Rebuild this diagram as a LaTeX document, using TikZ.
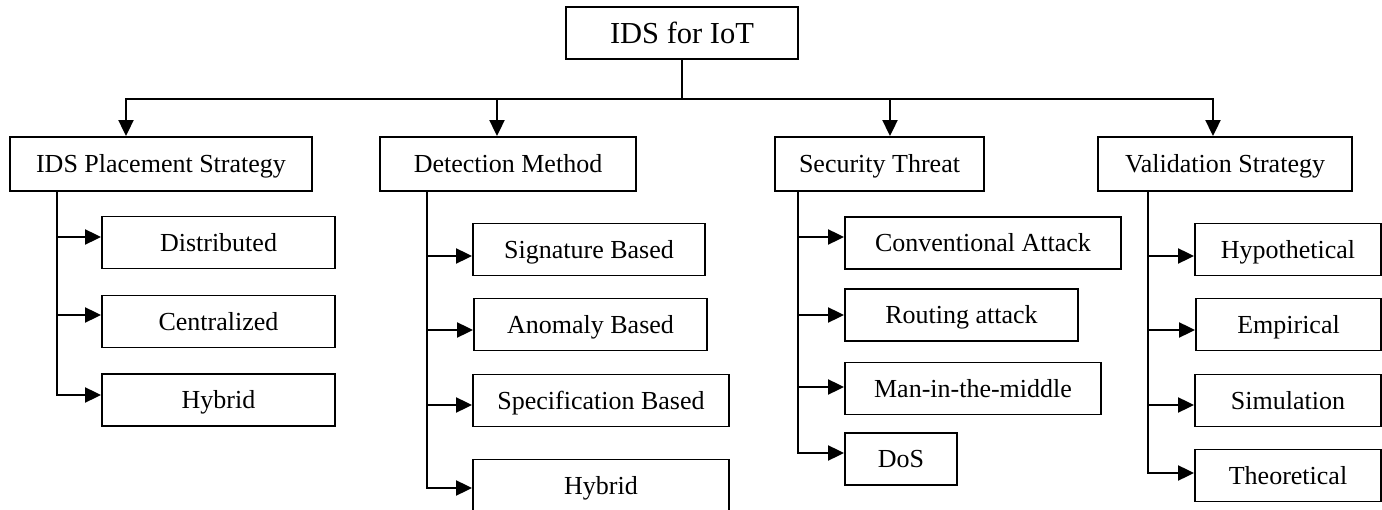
\documentclass[tikz,border=0pt]{standalone}
\usepackage{fontspec}
\setmainfont{Liberation Serif}
\usetikzlibrary{arrows.meta}

% arrow from a vertical stem into the west side of a node, shifted vertically
\newcommand\branchto[3]{%
  \path ([yshift=#3]#2.west) coordinate (#2-in);
  \draw[arrow] (#2-in -| #1) -- (#2-in);}

\begin{document}
\begin{tikzpicture}[x=1pt,y=-1pt,
  box/.style={draw, line width=1.9pt, inner sep=0pt, text height=17.2pt,
    text depth=0pt, font=\fontsize{26}{30}\selectfont},
  toplevel/.style={box, minimum height=54pt},
  leaf/.style={box, minimum height=52pt},
  wire/.style={line width=2.1pt, line cap=rect},
  arrow/.style={line width=2.1pt, -{Triangle[length=16pt,width=15pt]}},
]
\useasboundingbox (0,0) rectangle (1382,510);

% root
\node[box, minimum width=232pt, minimum height=52pt, text height=20.1pt,
  font=\fontsize{30.5}{36}\selectfont] (root) at (682,33) {IDS for IoT};

% first level
\node[toplevel, minimum width=302pt] (place)  at (161,164)   {IDS Placement Strategy};
\node[toplevel, minimum width=256pt] (detect) at (508,164)   {Detection Method};
\node[toplevel, minimum width=209pt] (threat) at (879.5,164) {Security Threat};
\node[toplevel, minimum width=254pt] (valid)  at (1225,164)  {Validation Strategy};

% placement strategies
\node[leaf, minimum width=233pt] (pa) at (218.5,242.5) {Distributed};
\node[leaf, minimum width=233pt] (pb) at (218.5,321.5) {Centralized};
\node[leaf, minimum width=233pt] (pc) at (218.5,400)   {Hybrid};

% detection methods
\node[leaf, minimum width=232pt] (da) at (589,249.5)   {Signature Based};
\node[leaf, minimum width=233pt] (db) at (590.5,324.5) {Anomaly Based};
\node[leaf, minimum width=256pt] (dc) at (601,400.5)   {Specification Based};
\node[leaf, minimum width=256pt] (dd) at (601,485.5)   {Hybrid};

% security threats
\node[leaf, minimum width=276pt] (sa) at (983,243)     {Conventional Attack};
\node[leaf, minimum width=233pt] (sb) at (961.5,315)   {Routing attack};
\node[leaf, minimum width=256pt] (sc) at (973,388.5)   {Man-in-the-middle};
\node[leaf, minimum width=112pt] (sd) at (901,459)     {DoS};

% validation strategies
\node[leaf, minimum width=186pt] (va) at (1288,249.5)   {Hypothetical};
\node[leaf, minimum width=185pt] (vb) at (1288.5,324.5) {Empirical};
\node[leaf, minimum width=186pt] (vc) at (1288,400.5)   {Simulation};
\node[leaf, minimum width=186pt] (vd) at (1288,475.5)   {Theoretical};

% bus from the root to the first level
\coordinate (j1) at (126,99);
\coordinate (j2) at (497,99);
\coordinate (j3) at (890,99);
\coordinate (j4) at (1213,99);
\draw[wire] (root.south) -- (root.south |- j1);
\draw[wire] (j1) -- (j4);
\draw[arrow] (j1) -- (j1 |- place.north);
\draw[arrow] (j2) -- (j2 |- detect.north);
\draw[arrow] (j3) -- (j3 |- threat.north);
\draw[arrow] (j4) -- (j4 |- valid.north);

% stems of the first-level nodes
\coordinate (ps) at (57,0);
\coordinate (ds) at (427,0);
\coordinate (ss) at (798,0);
\coordinate (vs) at (1148,0);

\branchto{ps}{pa}{5.5pt}
\branchto{ps}{pb}{6.5pt}
\branchto{ps}{pc}{5pt}
\draw[wire] (ps |- place.south) -- (ps |- pc-in);

\branchto{ds}{da}{-6.5pt}
\branchto{ds}{db}{-5.5pt}
\branchto{ds}{dc}{-4.5pt}
\branchto{ds}{dd}{-2.5pt}
\draw[wire] (ds |- detect.south) -- (ds |- dd-in);

\branchto{ss}{sa}{6pt}
\branchto{ss}{sb}{0pt}
\branchto{ss}{sc}{1.5pt}
\branchto{ss}{sd}{6pt}
\draw[wire] (ss |- threat.south) -- (ss |- sd-in);

\branchto{vs}{va}{-6.5pt}
\branchto{vs}{vb}{-5.5pt}
\branchto{vs}{vc}{-4.5pt}
\branchto{vs}{vd}{2.5pt}
\draw[wire] (vs |- valid.south) -- (vs |- vd-in);
\end{tikzpicture}
\end{document}
